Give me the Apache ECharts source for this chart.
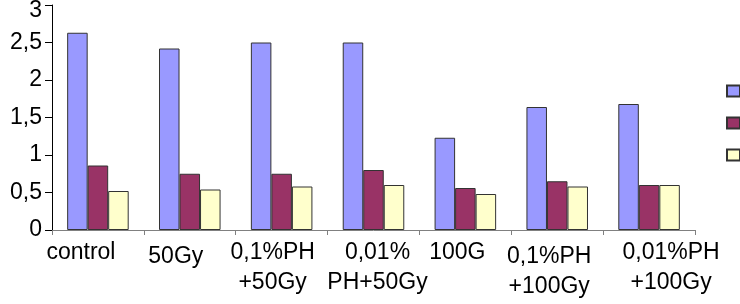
<!DOCTYPE html>
<html>
<head>
<meta charset="utf-8">
<script src="https://cdn.jsdelivr.net/npm/echarts@6/dist/echarts.min.js"></script>
<style>
  html, body { margin: 0; padding: 0; background: #fff; }
  #chart { width: 740px; height: 304px; }
</style>
</head>
<body>
<div id="chart"></div>
<script>
// categories and values
const categories = ['control', '50Gy', '0,1%PH\n+50Gy', '0,01%\nPH+50Gy', '100G', '0,1%PH\n+100Gy', '0,01%PH\n+100Gy']
const seriesNames = ['1', '2', '3']
const series1 = [2.63, 2.42, 2.50, 2.50, 1.23, 1.64, 1.68]
const series2 = [0.86, 0.75, 0.75, 0.80, 0.56, 0.65, 0.60]
const series3 = [0.52, 0.54, 0.58, 0.60, 0.48, 0.58, 0.60]
const yTicks = [0, 0.5, 1, 1.5, 2, 2.5, 3]

// label nudges (dx, dy in px), the original labels are a bit scattered
const labelShift = [[-17, -4], [-14, 2], [-9, 0], [4, 0], [-8, 0], [-8, 2], [22, -7]]

const colors = ['#9999ff', '#993366', '#ffffcc']

const chart = echarts.init(document.getElementById('chart'))

const axisData = categories.map((c, i) => {
  const dx = labelShift[i][0]
  const dy = labelShift[i][1]
  return {
    value: c,
    textStyle: {
      padding: [Math.max(dy, 0) * 2, Math.max(-dx, 0) * 2, Math.max(-dy, 0) * 2, Math.max(dx, 0) * 2]
    }
  }
})

const option = {
  animation: false,
  textStyle: { fontFamily: 'Liberation Sans, Arial, sans-serif' },
  grid: { left: 52, right: 45, top: 5, bottom: 74, containLabel: false, outerBoundsMode: 'none' },
  legend: {
    orient: 'vertical',
    left: 726,
    top: 84,
    padding: 0,
    itemWidth: 13,
    itemHeight: 11,
    itemGap: 18,
    icon: 'rect',
    data: seriesNames,
    textStyle: { fontSize: 14, color: '#000' }
  },
  xAxis: {
    type: 'category',
    data: axisData,
    axisLine: { lineStyle: { color: '#808080', width: 1 } },
    axisTick: { show: true, length: 5, lineStyle: { color: '#808080' } },
    axisLabel: {
      interval: 0,
      margin: 8,
      fontSize: 23,
      lineHeight: 30,
      color: '#000',
      verticalAlign: 'top',
      hideOverlap: false
    }
  },
  yAxis: {
    type: 'value',
    min: 0,
    max: 3,
    interval: 0.5,
    axisLine: { show: true, lineStyle: { color: '#000', width: 1 } },
    axisTick: { show: true, length: 7, lineStyle: { color: '#000' } },
    splitLine: { show: false },
    axisLabel: {
      fontSize: 23,
      color: '#000',
      margin: 10,
      formatter: v => {
        if (!yTicks.includes(v)) return ''
        const s = String(v).replace('.', ',')
        // top label sits a bit lower in the original so it is not cut
        return v === 3 ? '{top|' + s + '}' : s
      },
      rich: {
        top: { fontSize: 23, color: '#000', padding: [11, 0, 0, 0] }
      }
    }
  },
  series: [series1, series2, series3].map((d, i) => ({
    name: seriesNames[i],
    type: 'bar',
    data: d,
    barGap: '0%',
    barCategoryGap: '33%',
    itemStyle: { color: colors[i], borderColor: '#333', borderWidth: 1 }
  }))
}

chart.setOption(option)
</script>
</body>
</html>
